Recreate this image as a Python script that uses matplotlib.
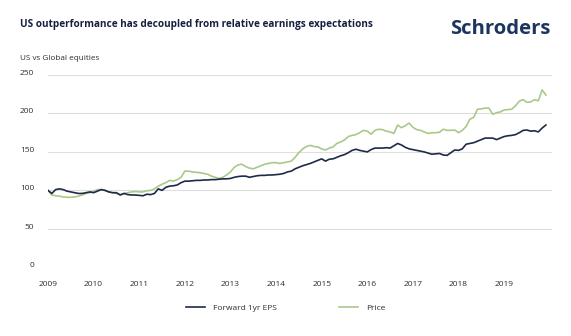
#!/usr/bin/env python3
"""US vs global equities: relative price against relative forward EPS, 2009-2019."""

import matplotlib

matplotlib.use("Agg")

import matplotlib.pyplot as plt
import matplotlib.transforms as mtransforms
import numpy as np
from matplotlib.lines import Line2D

# Monthly index levels, Jan 2009 = 100
forward_eps = [
    100, 96, 101, 102, 101, 99, 98, 97, 96, 96, 97, 98,
    97, 99, 101, 100, 98, 97, 97, 94, 96, 94.5, 94, 94,
    93.5, 93, 95, 94.5, 96, 102, 100, 104, 105.5, 106, 107, 110,
    112, 112, 112.5, 113, 113, 113.5, 113.5, 114, 114, 114.5, 115, 115,
    115.5, 117, 118, 118.5, 118.5, 117, 118, 119, 119.5, 119.5, 120, 120,
    120.5, 121, 122, 124, 125, 128, 130, 132, 133.5, 135, 137, 139,
    141, 138, 140.5, 141, 143, 145, 146.5, 149, 152, 153.5, 152, 151,
    150, 153, 155, 155, 155, 155.5, 155, 158, 161, 159, 156, 154,
    153, 152, 151, 150, 148.5, 147, 147.5, 148, 146, 145.5, 149, 152.5,
    152, 154, 160, 161, 162, 164, 166, 168, 168, 168, 166, 168,
    170, 171, 171.5, 172.5, 175, 178, 178.5, 177, 177.5, 176, 181, 185,
]
price = [
    100, 94, 93, 92.5, 91.5, 91, 91, 91.5, 92.5, 94, 96, 97,
    99, 101, 101, 100, 98, 97, 96, 94.5, 96, 97, 98, 98.5,
    98, 98, 99.5, 100, 102, 105.5, 108, 110, 113, 112, 114, 117,
    125, 125, 124, 123.5, 123, 122, 121, 118.5, 117, 115.5, 117, 120,
    124, 130, 133, 134, 131, 129, 128, 130, 132, 134, 135, 136,
    136, 135, 136, 137, 138, 143, 149, 154, 157, 158.5, 157, 156.5,
    154, 152.5, 155, 156.5, 161, 163, 165.5, 170, 171.5, 172.5, 175, 178,
    177, 173, 178, 179.5, 179, 177, 176, 174, 185, 181.5, 184, 187.5,
    182, 179, 178, 176, 174, 175, 175, 175.5, 179.5, 178, 178, 178.5,
    175, 178, 183, 192.5, 195, 205.5, 206, 207, 207, 199, 201, 202,
    204.5, 205, 205.5, 210, 216, 218, 214.5, 215, 218, 216.5, 230.5, 224,
]
years = list(range(2009, 2020))
y_ticks = [0, 50, 100, 150, 200, 250]

TITLE = "US outperformance has decoupled from relative earnings expectations"
SUBTITLE = "US vs Global equities"
EPS_COLOR = "#1e2a47"
PRICE_COLOR = "#a9c98a"
NAVY = "#14203f"
TEXT_GREY = "#2e2e2e"
GRID_GREY = "#dedede"

plt.rcParams["font.family"] = ["Open Sans", "DejaVu Sans"]

fig = plt.figure(figsize=(5.71, 3.36), dpi=100)
ax = fig.add_axes((48 / 571, 1 - 267.3 / 336, 504 / 571, 192.3 / 336))

t = 2009 + np.arange(len(forward_eps)) / 12
ax.plot(t, forward_eps, color=EPS_COLOR, linewidth=1.2, zorder=3)
ax.plot(t, price, color=PRICE_COLOR, linewidth=1.2, zorder=2)

ax.set_xlim(2009, 2020.05)
ax.set_ylim(0, 250)
ax.set_xticks(years)
ax.set_xticklabels([str(y) for y in years])
ax.set_yticks(y_ticks)
for side in ("top", "right", "left", "bottom"):
    ax.spines[side].set_visible(False)
ax.yaxis.grid(True, color=GRID_GREY, linewidth=0.8, zorder=0)
ax.set_axisbelow(True)
ax.tick_params(axis="both", length=0, labelsize=6, labelcolor=TEXT_GREY)
ax.tick_params(axis="y", pad=10)
ax.tick_params(axis="x", pad=10)

# nudge y labels slightly above their gridlines
lift = mtransforms.ScaledTranslation(0, 2 / 72, fig.dpi_scale_trans)
for lab in ax.get_yticklabels():
    lab.set_transform(lab.get_transform() + lift)

fig.text(20 / 571, 1 - 25 / 336, TITLE, fontsize=7.2, fontweight="bold",
         color=NAVY, ha="left", va="center")
fig.text(450 / 571, 1 - 29 / 336, "Schroders", fontsize=14.6, fontweight="bold",
         color="#1b355f", ha="left", va="center")
fig.text(20 / 571, 1 - 59 / 336, SUBTITLE, fontsize=5.9, color=TEXT_GREY,
         ha="left", va="center")

handles = [
    Line2D([], [], color=EPS_COLOR, linewidth=1.2, label="Forward 1yr EPS"),
    Line2D([], [], color=PRICE_COLOR, linewidth=1.2, label="Price"),
]
fig.legend(handles=handles, loc="center", bbox_to_anchor=(0.5, 1 - 308 / 336),
           ncol=2, frameon=False, fontsize=6, labelcolor=TEXT_GREY,
           handlelength=2.3, handletextpad=0.9, columnspacing=7.5)

fig.savefig("out.png", dpi=100)
